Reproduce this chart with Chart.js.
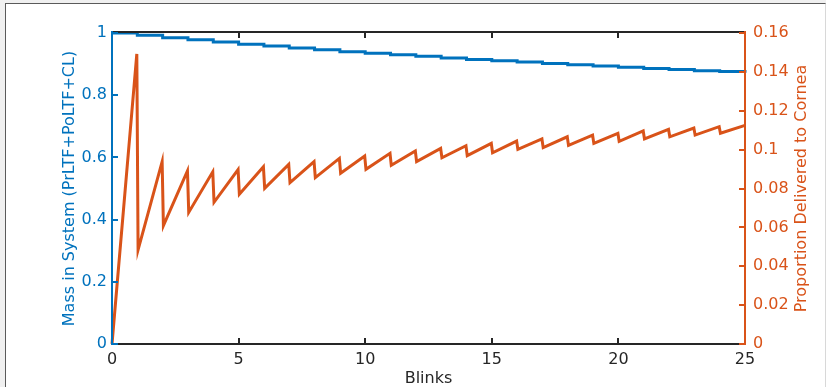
<!DOCTYPE html>
<html>
<head>
<meta charset="utf-8">
<script src="https://cdn.jsdelivr.net/npm/chart.js@4/dist/chart.umd.min.js"></script>
<style>
    html, body {
        margin: 0;
        padding: 0;
        background: #f0f0f0;
        overflow: hidden;
    }
    #frame {
        position: absolute;
        left: 5px;
        top: 3px;
        width: 819px;
        height: 390px;
        background: #ffffff;
        border-left: 1px solid #5a5a5a;
        border-top: 1px solid #5a5a5a;
        border-right: 1px solid #d8d8d8;
    }
    #wrap {
        position: absolute;
        left: 0;
        top: 0;
        width: 826px;
        height: 387px;
    }
</style>
</head>
<body>
<div id="frame"></div>
<div id="wrap"><canvas id="massChart" width="826" height="387"></canvas></div>

<script>
// blinks 0..25 for the mass curve (step drops at every blink)
const blinks = [0, 1, 2, 3, 4, 5, 6, 7, 8, 9, 10, 11, 12, 13, 14, 15, 16, 17, 18, 19, 20, 21, 22, 23, 24, 25]
const massInSystem = [
    1.000, 0.993, 0.985, 0.978, 0.971, 0.964, 0.958, 0.952, 0.946, 0.940,
    0.935, 0.930, 0.925, 0.920, 0.915, 0.911, 0.907, 0.902, 0.898, 0.894,
    0.890, 0.886, 0.883, 0.879, 0.876, 0.872
]

// proportion delivered to cornea: value just before each blink (peak) and just after (trough)
const peakBlinks = [1, 2, 3, 4, 5, 6, 7, 8, 9, 10, 11, 12, 13, 14, 15, 16, 17, 18, 19, 20, 21, 22, 23, 24]
const corneaPeaks = [
    0.1492, 0.0938, 0.0890, 0.0886, 0.0897, 0.0912, 0.0924, 0.0938, 0.0955, 0.0967,
    0.0981, 0.0993, 0.1006, 0.1020, 0.1032, 0.1044, 0.1055, 0.1066, 0.1075, 0.1084,
    0.1096, 0.1104, 0.1111, 0.1118
]
const corneaTroughs = [
    0.0484, 0.0609, 0.0677, 0.0729, 0.0770, 0.0801, 0.0830, 0.0856, 0.0878, 0.0899,
    0.0919, 0.0938, 0.0958, 0.0969, 0.0984, 0.1001, 0.1010, 0.1022, 0.1032, 0.1043,
    0.1055, 0.1066, 0.1075, 0.1084
]
const corneaStart = 0
const corneaEnd = 0.1125

const xTicks = [0, 5, 10, 15, 20, 25]
const massTicks = [0, 0.2, 0.4, 0.6, 0.8, 1]
const corneaTicks = [0, 0.02, 0.04, 0.06, 0.08, 0.1, 0.12, 0.14, 0.16]

const BLUE = "#0072BD"
const ORANGE = "#D95319"
const DARK = "#262626"
const FONT = "'DejaVu Sans', sans-serif"
const SIZE = 16

const rightTitle = "Proportion Delivered to Cornea"

const massPoints = blinks.map((b, i) => ({ x: b, y: massInSystem[i] }))

const corneaPoints = [{ x: 0, y: corneaStart }]
peakBlinks.forEach((b, i) => {
    corneaPoints.push({ x: b - 0.02, y: corneaPeaks[i] })
    corneaPoints.push({ x: b + 0.03, y: corneaTroughs[i] })
})
corneaPoints.push({ x: 25, y: corneaEnd })

function plainNumber(value) {
    return String(Number(value.toFixed(4)))
}

// MATLAB style box with inward ticks, drawn over the lines
const boxPlugin = {
    id: "matlabBox",
    afterDatasetsDraw(chart) {
        const ctx = chart.ctx
        const a = chart.chartArea
        const x = chart.scales.x
        const y = chart.scales.y
        const y1 = chart.scales.y1
        const tick = 6

        ctx.save()
        ctx.lineWidth = 2
        ctx.lineCap = "butt"

        ctx.strokeStyle = DARK
        ctx.beginPath()
        ctx.moveTo(a.left, a.top - 1)
        ctx.lineTo(a.right, a.top - 1)
        ctx.moveTo(a.left, a.bottom)
        ctx.lineTo(a.right, a.bottom)
        xTicks.forEach(v => {
            const px = Math.round(x.getPixelForValue(v))
            ctx.moveTo(px, a.bottom)
            ctx.lineTo(px, a.bottom - tick)
            ctx.moveTo(px, a.top - 1)
            ctx.lineTo(px, a.top - 1 + tick)
        })
        ctx.stroke()

        ctx.strokeStyle = BLUE
        ctx.beginPath()
        ctx.moveTo(a.left, a.top - 2)
        ctx.lineTo(a.left, a.bottom + 1)
        massTicks.forEach(v => {
            const py = Math.round(y.getPixelForValue(v))
            ctx.moveTo(a.left, py)
            ctx.lineTo(a.left + tick, py)
        })
        ctx.stroke()

        ctx.strokeStyle = ORANGE
        ctx.beginPath()
        ctx.moveTo(a.right, a.top - 2)
        ctx.lineTo(a.right, a.bottom + 1)
        corneaTicks.forEach(v => {
            const py = Math.round(y1.getPixelForValue(v))
            ctx.moveTo(a.right, py)
            ctx.lineTo(a.right - tick, py)
        })
        ctx.stroke()

        // right axis title reads bottom to top, like the left one
        ctx.fillStyle = ORANGE
        ctx.font = `${SIZE}px ${FONT}`
        ctx.textAlign = "center"
        ctx.textBaseline = "middle"
        ctx.translate(y1.right - 24, (a.top + a.bottom) / 2)
        ctx.rotate(-Math.PI / 2)
        ctx.fillText(rightTitle, 0, 0)
        ctx.restore()
    }
}

const ctx = document.getElementById("massChart").getContext("2d")

new Chart(ctx, {
    type: "line",
    data: {
        datasets: [
            {
                label: "Mass in System",
                data: massPoints,
                yAxisID: "y",
                borderColor: BLUE,
                borderWidth: 3,
                stepped: "before",
                pointRadius: 0,
                fill: false,
                clip: false
            },
            {
                label: rightTitle,
                data: corneaPoints,
                yAxisID: "y1",
                borderColor: ORANGE,
                borderWidth: 3,
                tension: 0,
                pointRadius: 0,
                fill: false,
                clip: false
            }
        ]
    },
    options: {
        responsive: false,
        animation: false,
        layout: {
            padding: { top: 33, left: 0, right: 0, bottom: 0 }
        },
        plugins: {
            legend: { display: false },
            tooltip: { enabled: false }
        },
        scales: {
            x: {
                type: "linear",
                min: 0,
                max: 25,
                afterFit(scale) { scale.height = 43 },
                afterBuildTicks(scale) { scale.ticks = xTicks.map(v => ({ value: v })) },
                grid: { display: false, drawTicks: false },
                border: { display: false },
                ticks: {
                    color: DARK,
                    padding: 6,
                    maxRotation: 0,
                    callback: plainNumber,
                    font: { family: FONT, size: SIZE }
                },
                title: {
                    display: true,
                    text: "Blinks",
                    color: DARK,
                    padding: { top: 0, bottom: -1 },
                    font: { family: FONT, size: SIZE }
                }
            },
            y: {
                position: "left",
                min: 0,
                max: 1,
                afterFit(scale) { scale.width = 112 },
                afterBuildTicks(scale) { scale.ticks = massTicks.map(v => ({ value: v })) },
                grid: { display: false, drawTicks: false },
                border: { display: false },
                ticks: {
                    color: BLUE,
                    padding: 5,
                    callback: plainNumber,
                    font: { family: FONT, size: SIZE }
                },
                title: {
                    display: true,
                    text: "Mass in System (PrLTF+PoLTF+CL)",
                    color: BLUE,
                    padding: { top: 60, bottom: 0 },
                    font: { family: FONT, size: SIZE }
                }
            },
            y1: {
                position: "right",
                min: 0,
                max: 0.16,
                afterFit(scale) { scale.width = 81 },
                afterBuildTicks(scale) { scale.ticks = corneaTicks.map(v => ({ value: v })) },
                grid: { display: false, drawTicks: false },
                border: { display: false },
                ticks: {
                    color: ORANGE,
                    padding: 8,
                    callback: plainNumber,
                    font: { family: FONT, size: SIZE }
                },
                title: { display: false }
            }
        }
    },
    plugins: [boxPlugin]
})
</script>
</body>
</html>
